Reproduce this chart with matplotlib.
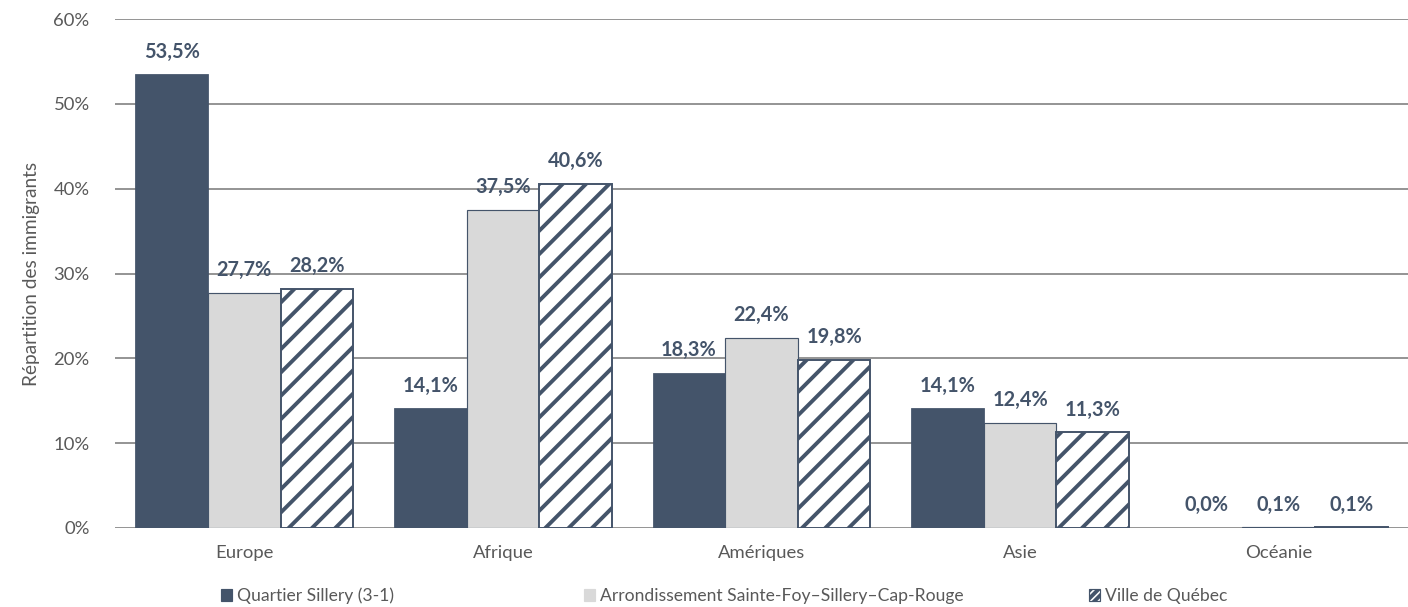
import matplotlib.pyplot as plt
from matplotlib.patches import Patch
import numpy as np

# ---------------- data ----------------
regions = ["Europe", "Afrique", "Amériques", "Asie", "Océanie"]
series_names = ["Quartier Sillery (3-1)",
                "Arrondissement Sainte-Foy–Sillery–Cap-Rouge",
                "Ville de Québec"]
sillery = [53.5, 14.1, 18.3, 14.1, 0.0]
arrondissement = [27.7, 37.5, 22.4, 12.4, 0.1]
ville = [28.2, 40.6, 19.8, 11.3, 0.1]
y_ticks = [0, 10, 20, 30, 40, 50, 60]

# ---------------- style ----------------
navy = "#44546a"
grey_txt = "#595959"
plt.rcParams["font.family"] = ["Lato", "DejaVu Sans"]
plt.rcParams["hatch.linewidth"] = 4.0
plt.rcParams["hatch.color"] = navy

DPI = 70
fig = plt.figure(figsize=(1408 / DPI, 607 / DPI), dpi=DPI)
ax = fig.add_axes([115 / 1408, 1 - 528 / 607, 1 - 115 / 1408, (528 - 19) / 607])

x = np.arange(len(regions))
w = 0.281
styles = [
    dict(color=navy, edgecolor=navy, linewidth=0.8),
    dict(color="#d9d9d9", edgecolor=navy, linewidth=1.2),
    dict(facecolor="white", edgecolor=navy, linewidth=2.0, hatch="/"),
]
all_vals = [sillery, arrondissement, ville]

for i, (vals, st) in enumerate(zip(all_vals, styles)):
    bars = ax.bar(x + (i - 1) * w, vals, w, zorder=3, **st)
    for b, v in zip(bars, vals):
        ax.annotate(("%.1f%%" % v).replace(".", ","),
                    (b.get_x() + b.get_width() / 2, b.get_height()),
                    xytext=(0, 13), textcoords="offset points",
                    ha="center", va="bottom", fontsize=20.5,
                    fontweight="bold", color=navy, zorder=5)

ax.set_xlim(-0.5, len(regions) - 0.5)
ax.set_ylim(0, 60)
ax.set_yticks(y_ticks)
ax.set_yticklabels(["%d%%" % t for t in y_ticks])
ax.set_xticks(x)
ax.set_xticklabels(regions)
ax.yaxis.grid(True, color="#888888", linewidth=1.8, zorder=0)
ax.set_axisbelow(True)
for s in ax.spines.values():
    s.set_visible(False)
ax.tick_params(axis="both", length=0, labelsize=19, colors=grey_txt)
ax.tick_params(axis="y", pad=26)
ax.tick_params(axis="x", pad=17)
ax.set_ylabel("Répartition des immigrants", fontsize=19.5, color=grey_txt,
              labelpad=14)

# legend, one entry at a time to match the spacing
leg_x = [221, 584, 1089]
for name, st, lx in zip(series_names, styles, leg_x):
    st2 = dict(st)
    st2["linewidth"] = 1.2
    if "hatch" in st2:
        st2["hatch"] = "///"
    h = Patch(label=name, **st2)
    fig.legend(handles=[h], loc="center left",
               bbox_to_anchor=(lx / 1408, 1 - 596 / 607), frameon=False,
               handlelength=0.65, handleheight=0.65, handletextpad=0.25,
               borderaxespad=0, borderpad=0,
               prop={"size": 18}, labelcolor=grey_txt)

fig.savefig("out.png", dpi=DPI)
